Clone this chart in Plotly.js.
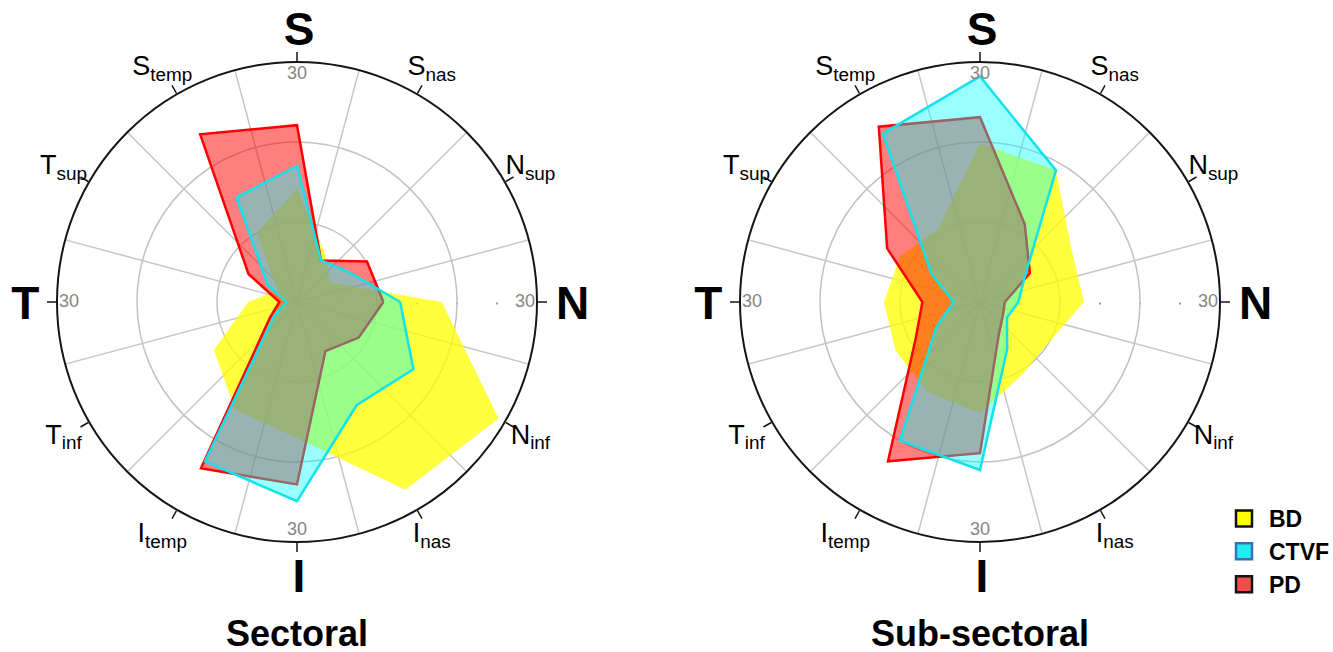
<!DOCTYPE html>
<html>
<head>
<meta charset="utf-8">
<script src="https://cdn.plot.ly/plotly-3.0.1.min.js"></script>
<style>
  html, body { margin: 0; padding: 0; background: #ffffff; }
  #chart { width: 1333px; height: 652px; }
</style>
</head>
<body>
<div id="chart"></div>
<script>
// Sector directions, degrees counter-clockwise from nasal (N)
const angles = [0, 30, 60, 90, 120, 150, 180, 210, 240, 270, 300, 330];
const sectorLabels = ['N', 'N<sub>sup</sub>', 'S<sub>nas</sub>', 'S', 'S<sub>temp</sub>', 'T<sub>sup</sub>',
                      'T', 'T<sub>inf</sub>', 'I<sub>temp</sub>', 'I', 'I<sub>nas</sub>', 'N<sub>inf</sub>'];
const mainDirections = ['N', 'S', 'T', 'I'];

// Sectoral values per direction
const sectoralBD   = [18.1, 4.8, 7.0, 14.2, 10.0, 2.8, 6.1, 12.0, 15.5, 17.0, 27.1, 29.1];
const sectoralPD   = [10.8, 10.1, 6.0, 22.1, 24.2, 7.0, 2.2, 3.9, 24.0, 22.8, 7.1, 8.9];
const sectoralCTVF = [12.9, 7.5, 6.0, 17.0, 15.1, 4.2, 1.3, 3.2, 23.0, 24.9, 14.9, 16.8];

// Sub-sectoral values per direction
const subBD   = [13.0, 13.2, 19.0, 19.8, 10.5, 11.5, 12.0, 12.2, 13.0, 13.9, 10.5, 10.0];
const subPD   = [3.1, 7.2, 11.2, 23.1, 25.3, 13.4, 7.2, 9.3, 23.0, 18.9, 4.7, 3.3];
const subCTVF = [4.8, 6.5, 19.0, 28.2, 24.3, 7.0, 3.3, 6.3, 20.0, 21.0, 6.8, 3.9];

const groupNames = ['BD', 'CTVF', 'PD'];
const panelTitles = ['Sectoral', 'Sub-sectoral'];
const radialMax = 30;
const radialGrid = [10, 20];
const radialMinor = [5, 10, 15, 20, 25];

const FONT = 'Liberation Sans, Arial, sans-serif';
const styles = {
  BD:   { fill: 'rgba(255,255,0,0.76)', line: 'rgba(255,255,0,0)', width: 0, swatch: '#ffff00', border: '#111111' },
  PD:   { fill: 'rgba(255,0,0,0.5)', line: '#ff0000', width: 2.5, swatch: '#f24c4c', border: '#111111' },
  CTVF: { fill: 'rgba(0,255,255,0.4)', line: '#12e2ec', width: 2.5, swatch: '#22eef2', border: '#3a6fb8' }
};

function closed(arr) { return arr.concat([arr[0]]); }

function polygon(values, group, subplot) {
  const st = styles[group];
  return {
    type: 'scatterpolar', subplot: subplot,
    r: closed(values), theta: closed(angles),
    mode: 'lines', fill: 'toself', fillcolor: st.fill,
    line: { color: st.line, width: st.width },
    name: group, showlegend: false, hoverinfo: 'skip'
  };
}

function anchorTrace(subplot) {
  return { type: 'scatterpolar', subplot: subplot, r: [0], theta: [0], mode: 'markers',
           marker: { opacity: 0 }, showlegend: false, hoverinfo: 'skip' };
}

// "30" scale marks just inside the outer ring on the four main directions
function radialLabels(subplot) {
  const dirs = [0, 90, 180, 270];
  return { type: 'scatterpolar', subplot: subplot,
           r: dirs.map(() => radialMax * 0.95), theta: dirs,
           mode: 'text', text: dirs.map(() => String(radialMax)),
           textposition: 'middle center',
           textfont: { family: FONT, size: 18, color: '#858585' },
           showlegend: false, hoverinfo: 'skip' };
}

// direction names, centred on each direction just outside the ring
function directionLabels(subplot, main) {
  const idx = sectorLabels.map((l, i) => i).filter(i => mainDirections.includes(sectorLabels[i]) === main);
  return { type: 'scatterpolar', subplot: subplot,
           r: idx.map(() => radialMax * (main ? 1.14 : 1.123)),
           theta: idx.map(i => angles[i]),
           mode: 'text', text: idx.map(i => sectorLabels[i]),
           textposition: 'middle center',
           textfont: main ? { family: FONT, size: 46, color: '#000000', weight: 'bold' }
                          : { family: FONT, size: 27, color: '#000000' },
           showlegend: false, hoverinfo: 'skip' };
}

const W = 1333, H = 652;
const R = 240, CY = 302, RL = 285;
const centers = [297, 980];
const domY = (cy, r) => [(H - cy - r) / H, (H - cy + r) / H];
const domX = (cx, r) => [(cx - r) / W, (cx + r) / W];

function basePolar(cx) {
  return {
    domain: { x: domX(cx, R), y: domY(CY, R) },
    bgcolor: '#ffffff',
    angularaxis: {
      rotation: 0, direction: 'counterclockwise', thetaunit: 'degrees',
      tickmode: 'array', tickvals: angles.map(a => a + 15),
      showgrid: true, gridcolor: '#c6c6c6', gridwidth: 1.5,
      showline: false, ticks: '', showticklabels: false
    },
    radialaxis: {
      range: [0, radialMax], angle: 0, tickmode: 'array', tickvals: radialMinor,
      showgrid: false, showline: false, ticks: 'outside', ticklen: 2, tickwidth: 2,
      tickcolor: '#9a9a9a', showticklabels: false
    }
  };
}

function topPolar(cx) {
  return {
    domain: { x: domX(cx, R), y: domY(CY, R) },
    bgcolor: 'rgba(0,0,0,0)',
    angularaxis: {
      rotation: 0, direction: 'counterclockwise', thetaunit: 'degrees',
      tickmode: 'array', tickvals: angles,
      showgrid: false, showline: true, linecolor: '#151515', linewidth: 2,
      ticks: 'outside', ticklen: 9, tickwidth: 1.5, tickcolor: '#151515',
      showticklabels: false
    },
    radialaxis: {
      range: [0, radialMax], tickmode: 'array', tickvals: radialGrid,
      showgrid: true, gridcolor: '#c2c2c2', gridwidth: 1.5,
      showline: false, ticks: '', showticklabels: false
    }
  };
}

// wider, invisible frame that carries the direction names
// (the bold letters sit a little lower/right so their glyphs centre on the ring)
function labelPolar(cx, cy) {
  return {
    domain: { x: domX(cx, RL), y: domY(cy, RL) },
    bgcolor: 'rgba(0,0,0,0)',
    angularaxis: { visible: false, rotation: 0, direction: 'counterclockwise', thetaunit: 'degrees' },
    radialaxis: { visible: false, range: [0, radialMax * RL / R] }
  };
}

const data = [
  anchorTrace('polar'),
  polygon(sectoralBD, 'BD', 'polar2'),
  polygon(sectoralPD, 'PD', 'polar2'),
  polygon(sectoralCTVF, 'CTVF', 'polar2'),
  radialLabels('polar2'),
  anchorTrace('polar3'),
  polygon(subBD, 'BD', 'polar4'),
  polygon(subPD, 'PD', 'polar4'),
  polygon(subCTVF, 'CTVF', 'polar4'),
  radialLabels('polar4'),
  directionLabels('polar5', false),
  directionLabels('polar6', false),
  directionLabels('polar7', true),
  directionLabels('polar8', true)
];

// legend swatches
groupNames.forEach(g => {
  data.push({
    type: 'scatterpolar', subplot: 'polar4', r: [null], theta: [null], mode: 'markers',
    marker: { symbol: 'square', size: 16, color: styles[g].swatch, line: { color: styles[g].border, width: 2.5 } },
    name: '<b>' + g + '</b>', showlegend: true, hoverinfo: 'skip'
  });
});

const layout = {
  width: W, height: H,
  margin: { l: 0, r: 0, t: 0, b: 0, autoexpand: false },
  paper_bgcolor: '#ffffff',
  showlegend: true,
  polar: basePolar(centers[0]),
  polar2: topPolar(centers[0]),
  polar3: basePolar(centers[1]),
  polar4: topPolar(centers[1]),
  polar5: labelPolar(centers[0], CY),
  polar6: labelPolar(centers[1], CY),
  polar7: labelPolar(centers[0] + 2, CY + 5),
  polar8: labelPolar(centers[1] + 2, CY + 5),
  legend: {
    x: 1219 / W, y: (H - 497) / H, xanchor: 'left', yanchor: 'top',
    font: { family: FONT, size: 23, color: '#000000' },
    bgcolor: 'rgba(0,0,0,0)', itemwidth: 40
  },
  annotations: panelTitles.map((t, i) => ({
    text: '<b>' + t + '</b>', x: centers[i] / W, y: (H - 633) / H,
    xref: 'paper', yref: 'paper', xanchor: 'center', yanchor: 'middle', height: 38,
    showarrow: false, font: { family: FONT, size: 36, color: '#000000' }
  }))
};

Plotly.newPlot('chart', data, layout, { displayModeBar: false, staticPlot: true });
</script>
</body>
</html>
